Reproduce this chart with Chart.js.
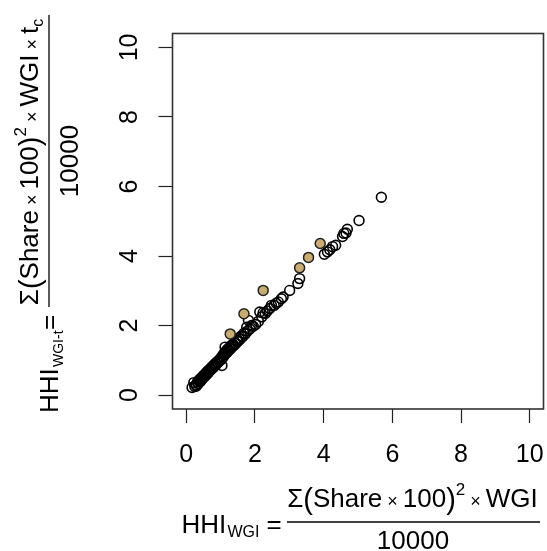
<!DOCTYPE html>
<html>
<head>
<meta charset="utf-8">
<script src="https://cdn.jsdelivr.net/npm/chart.js@4.4.0/dist/chart.umd.min.js"></script>
<style>
html, body { margin: 0; padding: 0; background: #fff; overflow: hidden; width: 547px; height: 551px; }
</style>
</head>
<body>
<canvas id="hhiChart" width="550" height="551"></canvas>
<script>
// Tick labels
const xTicks = [0, 2, 4, 6, 8, 10];
const yTicks = [0, 2, 4, 6, 8, 10];

// Open circles (HHI_WGI vs HHI_WGI-t)
const openX = [0.17, 0.22, 0.25, 0.28, 0.30, 0.33, 0.35, 0.36, 0.38, 0.40, 0.42, 0.44, 0.45, 0.47, 0.48,
  0.50, 0.52, 0.54, 0.55, 0.57, 0.58, 0.60, 0.62, 0.63, 0.65, 0.67, 0.69, 0.70, 0.72, 0.74, 0.76, 0.78,
  0.80, 0.82, 0.84, 0.86, 0.88, 0.90, 0.92, 0.95, 0.97, 1.00, 1.02, 1.04, 1.05, 1.08, 1.10, 1.12, 1.13,
  1.15, 1.18, 1.20, 1.22, 1.25, 1.28, 1.30, 1.33, 1.36, 1.38, 1.41, 1.44, 1.47, 1.50, 1.53, 1.56, 1.60,
  1.64, 1.68, 1.72, 1.76, 1.78, 1.81, 1.85, 1.90, 1.95, 2.02, 2.10, 2.14, 2.20, 2.24, 2.30, 2.36, 2.43,
  2.48, 2.56, 2.62, 2.68, 2.77, 2.82, 3.01, 3.25, 3.30, 4.02, 4.11, 4.18, 4.26, 4.35, 4.55, 4.59, 4.65,
  4.69, 5.03, 5.68];
const openY = [0.22, 0.36, 0.25, 0.30, 0.26, 0.38, 0.33, 0.42, 0.40, 0.46, 0.40, 0.50, 0.45, 0.52, 0.48,
  0.56, 0.52, 0.60, 0.55, 0.62, 0.58, 0.66, 0.62, 0.70, 0.66, 0.72, 0.70, 0.76, 0.73, 0.80, 0.77, 0.84,
  0.80, 0.88, 0.85, 0.92, 0.89, 0.96, 0.93, 1.00, 0.98, 1.06, 1.02, 0.85, 1.12, 1.10, 1.20, 1.16, 1.38,
  1.26, 1.22, 1.32, 1.27, 1.36, 1.32, 1.42, 1.38, 1.46, 1.42, 1.52, 1.48, 1.58, 1.54, 1.64, 1.60, 1.70,
  1.68, 1.78, 1.76, 1.95, 1.84, 2.15, 1.90, 2.00, 1.98, 2.03, 2.12, 2.39, 2.25, 2.37, 2.35, 2.42, 2.49,
  2.58, 2.58, 2.64, 2.68, 2.77, 2.82, 3.01, 3.21, 3.35, 4.05, 4.12, 4.18, 4.27, 4.31, 4.56, 4.65, 4.66,
  4.77, 5.02, 5.69];

// Filled (tan) circles
const tanX = [1.28, 1.68, 2.24, 3.30, 3.56, 3.90];
const tanY = [1.76, 2.34, 3.01, 3.66, 3.96, 4.36];

const FAM = '"Liberation Sans", Arial, sans-serif';

function toPoints(xs, ys) {
    return xs.map((x, i) => ({ x: x, y: ys[i] }));
}

function runsWidth(ctx, runs) {
    let w = 0;
    runs.forEach(r => {
        ctx.font = r.s + 'px ' + FAM;
        w += ctx.measureText(r.t).width;
    });
    return w;
}

function drawRuns(ctx, runs, x, base) {
    runs.forEach(r => {
        ctx.font = r.s + 'px ' + FAM;
        ctx.fillText(r.t, x, base + (r.dy || 0));
        x += ctx.measureText(r.t).width;
    });
}

const numX = [
    { t: 'Σ', s: 26 }, { t: '(', s: 29, dy: 2 }, { t: 'Share', s: 26 }, { t: ' × ', s: 18 },
    { t: '100', s: 26 }, { t: ')', s: 29, dy: 2 }, { t: '2', s: 17, dy: -12 }, { t: ' × ', s: 18 },
    { t: 'WGI', s: 26 }
];
const numY = numX.concat([{ t: ' × ', s: 18 }, { t: 't', s: 26 }, { t: 'c', s: 16, dy: 5 }]);

// R-style box, rotated y tick labels and the formula axis titles
const decorPlugin = {
    id: 'decor',
    beforeDatasetsDraw(chart) {
        const { ctx, chartArea: a } = chart;
        ctx.save();
        ctx.strokeStyle = '#333';
        ctx.lineWidth = 1.6;
        ctx.strokeRect(a.left, a.top, a.right - a.left, a.bottom - a.top);
        ctx.restore();
    },
    afterDraw(chart) {
        const ctx = chart.ctx;
        const xs = chart.scales.x, ys = chart.scales.y;
        ctx.save();
        ctx.fillStyle = '#000';
        ctx.textBaseline = 'alphabetic';

        // x tick labels
        ctx.textAlign = 'center';
        ctx.font = '25px ' + FAM;
        xTicks.forEach(v => ctx.fillText(String(v), xs.getPixelForValue(v), 461.5));

        // y tick labels (rotated)
        yTicks.forEach(v => {
            ctx.save();
            ctx.translate(137, ys.getPixelForValue(v));
            ctx.rotate(-Math.PI / 2);
            ctx.fillText(String(v), 0, 0);
            ctx.restore();
        });

        // x title
        ctx.textAlign = 'left';
        drawRuns(ctx, [{ t: 'HHI', s: 26 }], 181.5, 533);
        drawRuns(ctx, [{ t: 'WGI', s: 16 }], 227.5, 537);
        drawRuns(ctx, [{ t: '=', s: 26 }], 266.5, 533);
        ctx.strokeStyle = '#000';
        ctx.lineWidth = 1.3;
        ctx.beginPath();
        ctx.moveTo(287, 522); ctx.lineTo(540, 522);
        ctx.stroke();
        const wx = runsWidth(ctx, numX);
        drawRuns(ctx, numX, 412.5 - wx / 2, 507);
        ctx.textAlign = 'center';
        ctx.font = '26px ' + FAM;
        ctx.fillText('10000', 413, 549);

        // y title (rotated)
        ctx.save();
        ctx.rotate(-Math.PI / 2);
        ctx.textAlign = 'left';
        drawRuns(ctx, [{ t: 'HHI', s: 26 }], -413, 58);
        drawRuns(ctx, [{ t: 'WGI-t', s: 14 }], -367, 63);
        drawRuns(ctx, [{ t: '=', s: 26 }], -330, 58);
        ctx.beginPath();
        ctx.moveTo(-307, 49); ctx.lineTo(-15, 49);
        ctx.stroke();
        const wy = runsWidth(ctx, numY);
        drawRuns(ctx, numY, -162 - wy / 2, 38);
        ctx.textAlign = 'center';
        ctx.font = '26px ' + FAM;
        ctx.fillText('10000', -161, 78);
        ctx.restore();

        ctx.restore();
    }
};

function axisOptions(size) {
    return {
        type: 'linear',
        min: -0.4,
        max: 10.4,
        afterBuildTicks: s => { s.ticks = xTicks.map(v => ({ value: v })); },
        afterFit: s => { if (s.axis === 'x') { s.height = size; } else { s.width = size; } },
        grid: {
            display: true,
            drawOnChartArea: false,
            drawTicks: true,
            tickLength: 14,
            tickWidth: 1.2,
            tickColor: '#222'
        },
        border: { display: false },
        ticks: { display: false }
    };
}

new Chart(document.getElementById('hhiChart').getContext('2d'), {
    type: 'scatter',
    data: {
        datasets: [
            {
                label: 'filled',
                data: toPoints(tanX, tanY),
                backgroundColor: '#C9AC6E',
                borderColor: '#222',
                borderWidth: 1.5,
                pointRadius: 5,
                pointHoverRadius: 5
            },
            {
                label: 'open',
                data: toPoints(openX, openY),
                backgroundColor: 'rgba(0,0,0,0)',
                borderColor: '#000',
                borderWidth: 1.6,
                pointRadius: 4.9,
                pointHoverRadius: 4.9
            }
        ]
    },
    options: {
        responsive: false,
        animation: false,
        layout: { padding: { top: 33.5, left: 0, right: 2, bottom: 0 } },
        plugins: {
            legend: { display: false },
            tooltip: { enabled: false }
        },
        scales: {
            x: axisOptions(142),
            y: axisOptions(172.5)
        }
    },
    plugins: [decorPlugin]
});
</script>
</body>
</html>
